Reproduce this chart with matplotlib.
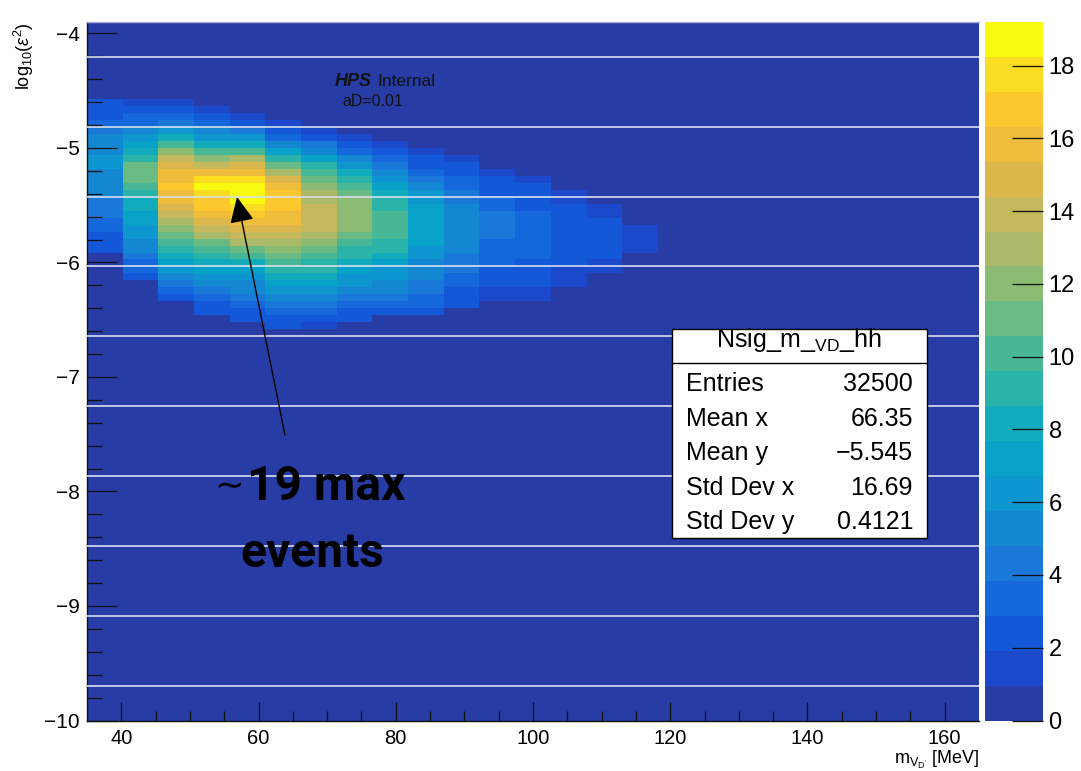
import numpy as np
import matplotlib
matplotlib.use("Agg")
import matplotlib.pyplot as plt
from matplotlib.colors import ListedColormap, BoundaryNorm
from matplotlib.patches import Rectangle
from matplotlib.lines import Line2D

plt.rcParams["font.family"] = ["Liberation Sans", "DejaVu Sans"]
plt.rcParams["mathtext.fontset"] = "custom"
plt.rcParams["mathtext.rm"] = "Liberation Sans"
plt.rcParams["mathtext.it"] = "Liberation Sans:italic"
plt.rcParams["mathtext.bf"] = "Liberation Sans:bold"
plt.rcParams["axes.unicode_minus"] = True

# ---- histogram binning -------------------------------------------------
mass_lo, mass_hi, n_mass = 35.0, 165.0, 25      # m_V_D' [MeV]
eps_lo, eps_hi, n_eps = -10.0, -3.9, 100        # log10(eps^2)

# first filled log10(eps^2) row of each mass column (rows counted from the top)
column_first_row = [11, 11, 11, 12, 13, 14, 15, 16, 17, 18, 19, 21, 22, 24, 26, 29]

# expected signal counts, going down each mass column from its first filled row
column_counts = [
    [2.4, 2.4, 2.4, 3.4, 4.3, 5.3, 5.3, 5.3, 6.2, 6.2, 5.3, 5.3, 5.3, 5.3, 4.3, 4.3,
     4.3, 3.4, 3.4, 2.4, 2.4, 2.4],
    [1.4, 2.4, 3.4, 3.4, 5.3, 6.2, 7.2, 8.2, 9.1, 11.0, 11.0, 11.0, 10.1, 9.1, 8.2,
     8.2, 7.2, 7.2, 6.2, 6.2, 5.3, 5.3, 4.3, 3.4, 3.4, 2.4],
    [1.4, 2.4, 3.4, 4.3, 6.2, 8.2, 10.1, 12.0, 13.9, 14.9, 15.8, 15.8, 16.8, 15.8,
     15.8, 14.9, 13.9, 13.0, 12.0, 11.0, 10.1, 9.1, 8.2, 7.2, 6.2, 5.3, 4.3, 3.4, 2.4],
    [1.4, 2.4, 3.4, 5.3, 6.2, 8.2, 10.1, 12.0, 13.9, 15.8, 17.7, 18.7, 17.7, 16.8,
     16.8, 15.8, 14.9, 13.9, 13.0, 11.0, 10.1, 9.1, 8.2, 7.2, 6.2, 5.3, 4.3, 3.4, 2.4, 2.4],
    [1.4, 2.4, 4.3, 6.2, 8.2, 10.1, 13.0, 14.9, 15.8, 17.7, 18.7, 19.2, 18.7, 17.7,
     16.8, 15.8, 14.9, 13.9, 13.0, 11.0, 10.1, 8.2, 7.2, 6.2, 5.3, 5.3, 4.3, 3.4, 2.4, 2.4],
    [1.4, 2.4, 3.4, 5.3, 7.2, 9.1, 11.0, 13.0, 14.9, 15.8, 16.8, 16.8, 16.8, 15.8,
     15.8, 14.9, 13.9, 13.0, 12.0, 11.0, 10.1, 9.1, 8.2, 7.2, 6.2, 5.3, 4.3, 3.4, 2.4, 2.4],
    [1.4, 2.4, 4.3, 5.3, 7.2, 9.1, 10.1, 11.0, 12.0, 13.0, 13.0, 13.9, 13.9, 13.9,
     13.9, 13.0, 12.0, 11.0, 10.1, 9.1, 9.1, 8.2, 7.2, 6.2, 5.3, 4.3, 3.4, 2.4, 1.4],
    [1.4, 2.4, 3.4, 5.3, 6.2, 8.2, 9.1, 10.1, 11.0, 12.0, 12.0, 12.0, 12.0, 12.0,
     11.0, 10.1, 9.1, 9.1, 8.2, 7.2, 6.2, 6.2, 5.3, 4.3, 3.4, 2.4, 2.4],
    [1.4, 2.4, 3.4, 4.3, 5.3, 6.2, 7.2, 8.2, 9.1, 9.1, 10.1, 10.1, 10.1, 10.1, 9.1,
     9.1, 8.2, 7.2, 6.2, 6.2, 5.3, 5.3, 4.3, 3.4, 2.4],
    [1.4, 2.4, 2.4, 3.4, 4.3, 5.3, 6.2, 6.2, 7.2, 7.2, 7.2, 7.2, 7.2, 7.2, 6.2, 6.2,
     5.3, 5.3, 5.3, 4.3, 4.3, 3.4, 3.4, 2.4],
    [1.4, 2.4, 2.4, 3.4, 3.4, 4.3, 4.3, 5.3, 5.3, 5.3, 5.3, 5.3, 5.3, 5.3, 4.3, 4.3,
     4.3, 3.4, 3.4, 2.4, 2.4, 2.4],
    [1.4, 2.4, 2.4, 2.4, 3.4, 3.4, 4.3, 4.3, 4.3, 4.3, 3.4, 3.4, 3.4, 3.4, 2.4, 2.4,
     2.4, 1.4, 1.4],
    [1.4, 2.4, 2.4, 2.4, 2.4, 3.4, 3.4, 3.4, 3.4, 3.4, 3.4, 3.4, 2.4, 2.4, 2.4, 2.4,
     1.4, 1.4],
    [1.4, 1.4, 2.4, 2.4, 2.4, 2.4, 2.4, 2.4, 2.4, 2.4, 2.4, 1.4, 1.4, 1.4],
    [1.4, 1.4, 2.4, 2.4, 2.4, 2.4, 2.4, 2.4, 1.4, 1.4],
    [1.4, 1.4, 1.4, 1.4],
]

# statistics box contents
stat_title = r"Nsig_m_$_{\mathregular{VD}}$_hh"
stat_labels = ["Entries", "Mean x", "Mean y", "Std Dev x", "Std Dev y"]
stat_values = ["32500", "66.35", "\u22125.545", "16.69", "0.4121"]

# palette used for the 20 contour levels
level_colors = [
    "#283ca5", "#1c48cc", "#1458da", "#1568dc", "#1a78d8", "#1487d3", "#0d96d0",
    "#08a2c8", "#12abbc", "#2ab3a8", "#48b796", "#6aba84", "#8cbb74", "#aaba68",
    "#c6b85c", "#dcb84c", "#efbc3c", "#fcc82e", "#fadc22", "#f8fa10",
]

# ---- fill the 2D histogram ----------------------------------------------
mass_edges = np.linspace(mass_lo, mass_hi, n_mass + 1)
eps_edges = np.linspace(eps_lo, eps_hi, n_eps + 1)
counts = np.zeros((n_eps, n_mass))
for col, (first, vals) in enumerate(zip(column_first_row, column_counts)):
    for k, v in enumerate(vals):
        counts[n_eps - 1 - (first + k), col] = v

zmax = counts.max()
levels = np.linspace(0.0, zmax, len(level_colors) + 1)
cmap = ListedColormap(level_colors)
norm = BoundaryNorm(levels, cmap.N)

# ---- figure layout (pixel based helpers) ----------------------------------
W, H = 1081, 771
fig = plt.figure(figsize=(W / 100, H / 100), dpi=100)
fig.patch.set_facecolor("white")


def fx(px):
    return px / W


def fy(py):
    return 1.0 - py / H


ax_l, ax_r, ax_t, ax_b = 87, 979, 22, 720.5
ax = fig.add_axes([fx(ax_l), fy(ax_b), fx(ax_r - ax_l), (ax_b - ax_t) / H])
ax.set_facecolor(level_colors[0])


def axx(px):
    return (px - ax_l) / (ax_r - ax_l)


def axy(py):
    return (ax_b - py) / (ax_b - ax_t)


mesh = ax.pcolormesh(mass_edges, eps_edges, counts, cmap=cmap, norm=norm,
                     shading="flat", antialiased=False, linewidth=0)

# light horizontal stripes every ten rows
for y in eps_edges[5::10]:
    ax.axhline(y, color="#d9dfec", lw=1.2, zorder=3)

ax.set_xlim(mass_lo, mass_hi)
ax.set_ylim(eps_lo, eps_hi)
ax.set_xticks(np.arange(40, 161, 20))
ax.set_xticks(np.arange(45, 165, 5), minor=True)
ax.set_yticks(np.arange(-10, -3.95, 1.0))
ax.set_yticks(np.arange(-10, -3.95, 0.2), minor=True)
ax.set_xticklabels([f"{v:d}" for v in np.arange(40, 161, 20)])
ax.set_yticklabels([f"\u2212{abs(v):d}" for v in np.arange(-10, -3, 1)])

ax.tick_params(axis="both", which="both", direction="in", color="#111111",
               top=False, right=False, width=0.9)
ax.tick_params(axis="y", which="major", length=21.6, labelsize=15, pad=5)
ax.tick_params(axis="y", which="minor", length=10.8)
ax.tick_params(axis="x", which="major", length=13.7, labelsize=14.5, pad=6)
ax.tick_params(axis="x", which="minor", length=7)

for side in ("left", "bottom"):
    ax.spines[side].set_color("#111111")
    ax.spines[side].set_linewidth(1.0)
ax.spines["right"].set_visible(False)
ax.spines["top"].set_color("#a9b3d6")
ax.spines["top"].set_linewidth(1.0)

# axis titles
fig.text(fx(24), fy(22), r"log$_{10}$($\epsilon^{2}$)", rotation=90,
         ha="center", va="top", fontsize=13)
fig.text(fx(979), fy(764), r"m$_{\mathregular{V_{D'}}}$ [MeV]",
         ha="right", va="baseline", fontsize=13)

# ---- colour scale ---------------------------------------------------------
cax = fig.add_axes([fx(985), fy(ax_b), fx(1043 - 985), (ax_b - ax_t) / H])
cb = fig.colorbar(mesh, cax=cax, ticks=np.arange(0, 19, 2))
cb.outline.set_visible(False)
cax.tick_params(direction="in", length=22, width=0.9, color="#111111",
                labelsize=17, pad=4)
cax.minorticks_off()
cb.set_ticklabels([str(v) for v in range(0, 19, 2)])

# ---- labels inside the frame -------------------------------------------
ax.text(axx(335), axy(86), "HPS", transform=ax.transAxes, fontsize=13,
        fontweight="bold", fontstyle="italic", color="#111111",
        va="baseline", ha="left")
ax.text(axx(377), axy(86), "Internal", transform=ax.transAxes, fontsize=12.5,
        color="#111111", va="baseline", ha="left")
ax.text(axx(342), axy(106.5), "aD=0.01", transform=ax.transAxes, fontsize=11.5,
        color="#111111", va="baseline", ha="left")

# arrow to the hottest cell and its caption
ax.annotate("", xy=(56.86, -5.428), xytext=(63.85, -7.507),
            arrowprops=dict(arrowstyle="-|>,head_length=1.6,head_width=0.75",
                            color="black", lw=1.0, mutation_scale=10,
                            shrinkA=0, shrinkB=0), zorder=6)
big_font = dict(family=["Roboto", "DejaVu Sans"], fontweight="bold",
                fontsize=34.5, color="black", zorder=6)
ax.text(axx(214), axy(497), "\u223c", transform=ax.transAxes,
        family="DejaVu Sans", fontsize=25.5, color="black", zorder=6,
        ha="left", va="baseline")
ax.text(axx(247), axy(500), "19 max", transform=ax.transAxes,
        ha="left", va="baseline", **big_font)
ax.text(axx(312), axy(567), "events", transform=ax.transAxes,
        ha="center", va="baseline", **big_font)

# ---- statistics box ---------------------------------------------------------
box_l, box_r, box_t, box_b = 672, 927, 329, 538
fig.add_artist(Rectangle((fx(box_l), fy(box_b)), fx(box_r - box_l),
                         (box_b - box_t) / H, transform=fig.transFigure,
                         facecolor="white", edgecolor="black", lw=1.0, zorder=5))
fig.add_artist(Line2D([fx(box_l), fx(box_r)], [fy(363), fy(363)],
                      transform=fig.transFigure, color="black", lw=1.0, zorder=6))
fig.text(fx(799), fy(347), stat_title, ha="center", va="baseline",
         fontsize=18, zorder=7)
row_baselines = [391, 426, 460, 495, 529]
for lab, val, yb in zip(stat_labels, stat_values, row_baselines):
    fig.text(fx(686), fy(yb), lab, ha="left", va="baseline", fontsize=18, zorder=7)
    fig.text(fx(913), fy(yb), val, ha="right", va="baseline", fontsize=18, zorder=7)

fig.savefig("out.png", dpi=100)
